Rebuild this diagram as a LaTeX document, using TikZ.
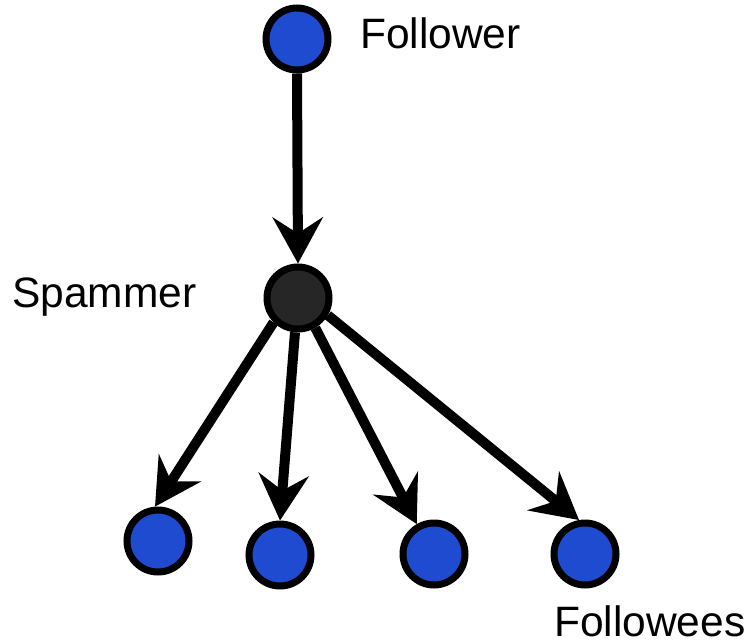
\documentclass[tikz,border=0pt]{standalone}
\usepackage{fontspec}
\setmainfont{Liberation Sans}
\usetikzlibrary{arrows.meta}
\definecolor{nodeblue}{RGB}{30,75,208}
\definecolor{spamgray}{RGB}{38,38,38}
\tikzset{
  user/.style={circle, draw=black, line width=7pt, fill=nodeblue, minimum size=62pt, inner sep=0pt},
  spam/.style={circle, draw=black, line width=7pt, fill=spamgray, minimum size=62pt, inner sep=0pt},
  link/.style={line width=10pt, -{Stealth[length=46pt, width=50pt, inset=16pt]}},
  lbl/.style={font=\fontsize{42.5pt}{42.5pt}\selectfont, anchor=base west, inner sep=0pt}
}
\begin{document}
\begin{tikzpicture}[x=1pt, y=-1pt]
\useasboundingbox (0,0) rectangle (754,644);
\node[user] (fol) at (297,39) {};
\node[spam] (sp) at (298,298) {};
\node[user] (c1) at (158,541) {};
\node[user] (c2) at (280,555) {};
\node[user] (c3) at (434,554) {};
\node[user] (c4) at (585,554) {};
\node[lbl] (tfol) at (360,49) {Follower};
\node[lbl] (tsp) at (12,307) {Spammer};
\node[lbl] (tfee) at (554,636) {Followees};
\draw[link] (fol.south) -- (sp.north);
\draw[link] (sp.225) -- (c1.95);
\draw[link] (sp.265) -- (c2.north);
\draw[link] (sp.300) -- (c3.120);
\draw[link] (sp.330) -- (c4.100);
\end{tikzpicture}
\end{document}
